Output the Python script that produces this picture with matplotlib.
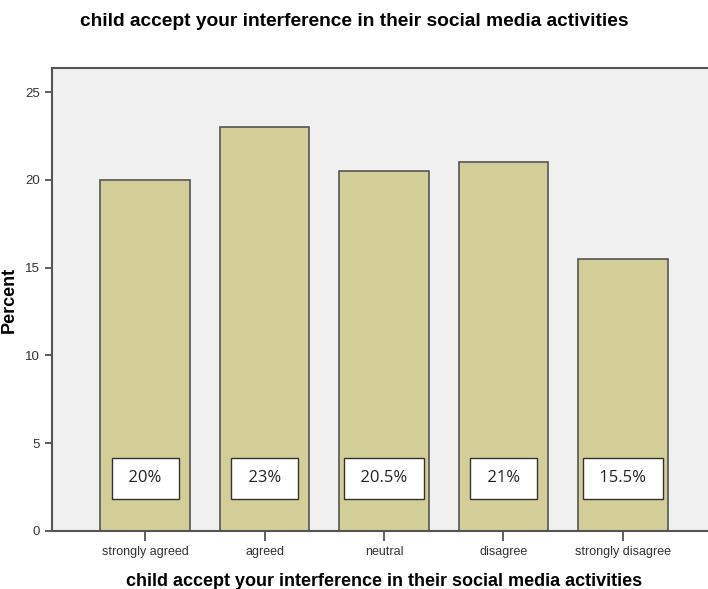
import numpy as np
import matplotlib.pyplot as plt

plt.rcParams['font.family'] = ['Liberation Sans', 'DejaVu Sans']

categories = ['strongly agreed', 'agreed', 'neutral', 'disagree', 'strongly disagree']
percent = [20, 23, 20.5, 21, 15.5]
labels = ['20%', '23%', '20.5%', '21%', '15.5%']
title = 'child accept your interference in their social media activities'

fig = plt.figure(figsize=(7.08, 5.89), dpi=100)
ax = fig.add_axes([0.0734, 0.0985, 0.938, 0.786])
ax.set_facecolor('#f0f0f0')

x = np.arange(len(categories))
ax.bar(x, percent, width=0.75, color='#d3ce97', edgecolor='#555555', linewidth=1.2, zorder=2)

# white value boxes near the bottom of each bar
for xi, lab in zip(x, labels):
    ax.text(xi, 3.0, ' ' + lab + ' ', ha='center', va='center', fontsize=12,
            family=['Open Sans', 'DejaVu Sans'], color='#222222', zorder=3,
            bbox=dict(boxstyle='square,pad=0.75', facecolor='white', edgecolor='#333333', linewidth=1))

ax.set_xlim(-0.78, 4.78)
ax.set_ylim(0, 26.37)
ax.set_xticks(x)
ax.set_xticklabels(categories, fontsize=9, color='#333333')
ax.set_yticks([0, 5, 10, 15, 20, 25])
ax.tick_params(axis='x', length=7, width=1.2, color='#444444', pad=4)
ax.tick_params(axis='y', length=5, width=1.2, color='#444444', labelsize=9.5, labelcolor='#333333')

for side in ['left', 'bottom', 'top']:
    ax.spines[side].set_color('#555555')
    ax.spines[side].set_linewidth(1.5)
ax.spines['right'].set_visible(False)

ax.set_ylabel('Percent', fontsize=13, fontweight='bold')
ax.yaxis.set_label_coords(-0.051, 0.5)
ax.set_xlabel(title, fontsize=13, fontweight='bold')
ax.xaxis.set_label_coords(0.5, -0.09)
fig.text(0.5, 0.963, title, ha='center', va='center', fontsize=13.8, fontweight='bold')

fig.savefig('out.png', dpi=100)
